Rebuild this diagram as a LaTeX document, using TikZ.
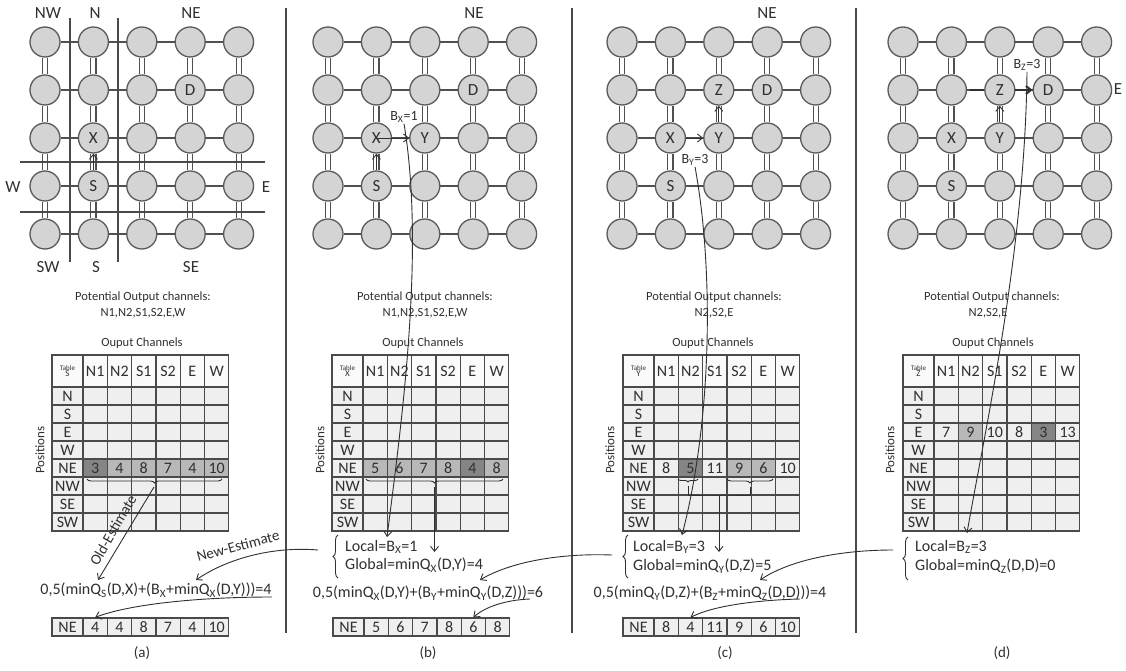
\documentclass[tikz,border=0pt]{standalone}
\usepackage{fontspec}
\setmainfont{Carlito}
\usetikzlibrary{arrows.meta,decorations.pathreplacing}
\definecolor{edgec}{HTML}{5A5A5A}
\definecolor{nodec}{HTML}{D4D4D4}
\definecolor{linec}{HTML}{505050}
\definecolor{divc}{HTML}{4A4A4A}
\definecolor{cellc}{HTML}{EFEFEF}
\definecolor{headc}{HTML}{FAFAFA}
\definecolor{midc}{HTML}{B8B8B8}
\definecolor{darkc}{HTML}{858585}
\definecolor{txtc}{HTML}{303030}
\newcommand\fsz[1]{\fontsize{#1}{#1}\selectfont}
\tikzset{
  router/.style={circle,draw=edgec,fill=nodec,line width=1.3pt,minimum size=30pt,inner sep=0pt},
  hlink/.style={draw=linec,line width=1.3pt},
  vlink/.style={draw=linec,line width=1.1pt,double=white,double distance=4pt},
  divider/.style={draw=divc,line width=2.2pt},
  cross/.style={draw=divc,line width=2pt},
  arr/.style={draw=txtc,line width=0.9pt,-{Straight Barb[length=5pt,width=8pt]}},
  cellbox/.style={draw=divc,line width=1.2pt,fill=cellc,minimum width=24.3pt,minimum height=18pt,inner sep=0pt,font=\fsz{16},text=txtc},
  rowlab/.style={cellbox,minimum width=31pt},
  headbox/.style={cellbox,fill=headc,minimum height=32pt},
  headlab/.style={headbox,minimum width=31pt,font=\fsz{7},align=center},
  lbl/.style={font=\fsz{16},text=txtc,inner sep=0pt},
  glbl/.style={font=\fsz{17},text=txtc,inner sep=0pt},
  small/.style={font=\fsz{12.5},text=txtc,inner sep=0pt},
  letr/.style={font=\fsz{17},text=txtc,inner sep=0pt},
  hbrace/.style={draw=txtc,line width=0.9pt,decorate,decoration={brace,mirror,amplitude=4pt}},
  vbrace/.style={draw=txtc,line width=0.9pt,decorate,decoration={brace,amplitude=5pt}},
  bl/.style={font=\fsz{14},text=txtc,fill=white,inner sep=1pt},
}
\newcommand\meshat[2]{%
  \foreach \i in {1,...,5}{\foreach \j in {1,...,5}{
    \node[router] (#1-\i-\j) at ({#2+48.4*(\i-1)},{42+48*(\j-1)}) {};}}
  \foreach \i in {1,...,4}{\foreach \j in {1,...,5}{
    \pgfmathtruncatemacro\ni{\i+1}
    \draw[hlink] (#1-\i-\j) -- (#1-\ni-\j);}}
  \foreach \i in {1,...,5}{\foreach \j in {1,...,4}{
    \pgfmathtruncatemacro\nj{\j+1}
    \draw[vlink] (#1-\i-\j) -- (#1-\i-\nj);}}
}
\newcommand\qtab[3]{%
  \node[headlab] (#1-0-0) at ({#2+15.5},371) {Table\\[-1pt]{\fsz{9}#3}};
  \foreach \c/\t in {1/N1,2/N2,3/S1,4/S2,5/E,6/W}
    \node[headbox] (#1-0-\c) at ({#2+31+24.3*(\c-0.5)},371) {\t};
  \foreach \r/\t in {1/N,2/S,3/E,4/W,5/NE,6/NW,7/SE,8/SW}{
    \node[rowlab] (#1-\r-0) at ({#2+15.5},{387+18*(\r-0.5)}) {\t};
    \foreach \c in {1,...,6}
      \node[cellbox] (#1-\r-\c) at ({#2+31+24.3*(\c-0.5)},{387+18*(\r-0.5)}) {};}
}
\newcommand\vals[3]{%
  \foreach \c/\v/\f in {#3}
    \node[cellbox,fill=\f] (#1-v-\c) at (#1-#2-\c) {\v};
}
\newcommand\newrow[3]{%
  \node[rowlab] (#1-0) at ({#2+15.5},627) {NE};
  \foreach \c/\v in {#3}
    \node[cellbox] (#1-\c) at ({#2+31+24.3*(\c-0.5)},627) {\v};
}
\begin{document}
\begin{tikzpicture}[x=1pt,y=-1pt]
\useasboundingbox[fill=white] (0,0) rectangle (1126,671);
% dividers
\draw[divider] (286,8) -- (286,633);
\draw[divider] (572,8) -- (572,633);
\draw[divider] (856,8) -- (856,633);
% meshes
\meshat{a}{45}
\meshat{b}{328}
\meshat{c}{622}
\meshat{d}{903}
% panel (a) region lines
\draw[cross] (70,18) -- (70,262);
\draw[cross] (118,18) -- (118,262);
\draw[cross] (20,162) -- (265,162);
\draw[cross] (20,212) -- (265,212);
\node[glbl] (lNW) at (48,13) {NW};
\node[glbl] (lN) at (95,13) {N};
\node[glbl] (lNE) at (191,13) {NE};
\node[glbl] (lW) at (13,187) {W};
\node[glbl] (lE) at (266,187) {E};
\node[glbl] (lSW) at (48,267) {SW};
\node[glbl] (lS) at (96,267) {S};
\node[glbl] (lSE) at (191,267) {SE};
\node[glbl] (lNEb) at (474,13) {NE};
\node[glbl] (lNEc) at (767,13) {NE};
\node[glbl] (lEd) at (1118,89) {E};
% letters
\node[letr] (aD) at (a-4-2) {D};
\node[letr] (aX) at (a-2-3) {X};
\node[letr] (aS) at (a-2-4) {S};
\node[letr] (bD) at (b-4-2) {D};
\node[letr] (bX) at (b-2-3) {X};
\node[letr] (bY) at (b-3-3) {Y};
\node[letr] (bS) at (b-2-4) {S};
\node[letr] (cZ) at (c-3-2) {Z};
\node[letr] (cD) at (c-4-2) {D};
\node[letr] (cX) at (c-2-3) {X};
\node[letr] (cY) at (c-3-3) {Y};
\node[letr] (cS) at (c-2-4) {S};
\node[letr] (dZ) at (d-3-2) {Z};
\node[letr] (dD) at (d-4-2) {D};
\node[letr] (dX) at (d-2-3) {X};
\node[letr] (dY) at (d-3-3) {Y};
\node[letr] (dS) at (d-2-4) {S};
% route arrows
\draw[arr] (a-2-4) -- (a-2-3);
\draw[arr] (b-2-4) -- (b-2-3);
\draw[arr] (b-2-3.center) -- (b-3-3);
\draw[arr] (c-2-3) -- (c-3-3);
\draw[arr] (c-3-3) -- (c-3-2);
\draw[arr] (d-3-3) -- (d-3-2);
\coordinate (dzl) at (970,90);
\draw[draw=txtc,line width=2pt] (dzl) -- (d-3-2.west);
\draw[draw=txtc,line width=2pt,-{Straight Barb[length=5pt,width=8pt]}] (d-3-2.east) -- (d-4-2);
\node[bl] (bBx) at (404,117) {B\textsubscript{X}=1};
\node[bl] (cBy) at (695,160) {B\textsubscript{Y}=3};
\node[bl] (dBz) at (1027,65) {B\textsubscript{Z}=3};
% texts above tables
\node[small] (apo) at (143,297) {Potential Output channels:};
\node[small] (apl) at (143,313) {N1,N2,S1,S2,E,W};
\node[small] (aoc) at (142,343) {Ouput Channels};
\node[small] (bpo) at (425,297) {Potential Output channels:};
\node[small] (bpl) at (425,313) {N1,N2,S1,S2,E,W};
\node[small] (boc) at (423,343) {Ouput Channels};
\node[small] (cpo) at (714,297) {Potential Output channels:};
\node[small] (cpl) at (714,313) {N2,S2,E};
\node[small] (coc) at (713,343) {Ouput Channels};
\node[small] (dpo) at (992,297) {Potential Output channels:};
\node[small] (dpl) at (988,313) {N2,S2,E};
\node[small] (doc) at (993,343) {Ouput Channels};
% tables
\qtab{ta}{52}{S}
\qtab{tb}{332}{X}
\qtab{tc}{623}{Y}
\qtab{td}{903}{Z}
\vals{ta}{5}{1/3/darkc,2/4/midc,3/8/midc,4/7/midc,5/4/midc,6/10/midc}
\vals{tb}{5}{1/5/midc,2/6/midc,3/7/midc,4/8/midc,5/4/darkc,6/8/midc}
\vals{tc}{5}{1/8/cellc,2/5/darkc,3/11/cellc,4/9/midc,5/6/midc,6/10/cellc}
\vals{td}{3}{1/7/cellc,2/9/midc,3/10/cellc,4/8/cellc,5/3/darkc,6/13/cellc}
\node[small,font=\fsz{13},rotate=90] (aPos) at (40,450) {Positions};
\node[small,font=\fsz{13},rotate=90] (bPos) at (320,450) {Positions};
\node[small,font=\fsz{13},rotate=90] (cPos) at (610,450) {Positions};
\node[small,font=\fsz{13},rotate=90] (dPos) at (890,450) {Positions};
% braces under NE rows
\draw[hbrace] (87,479) -- (222,479);
\coordinate (aTip) at (154,487);
\draw[hbrace] (366,479) -- (503,479);
\coordinate (bTip) at (434.5,487);
\draw[hbrace,decoration={brace,mirror,amplitude=3pt}] (678,479) -- (698,479);
\draw[hbrace] (727,479) -- (773,479);
\coordinate (cT1) at (688,486);
\coordinate (cT2) at (750,487);
\coordinate (cJ) at (719,495);
\draw[draw=txtc,line width=0.9pt] (cT1) |- (cJ) -| (cT2);
% local/global blocks
\draw[vbrace] (338,578) -- (338,535);
\node[lbl,anchor=west] (bLoc) at (345,547) {Local=B\textsubscript{X}=1};
\node[lbl,anchor=west] (bGlo) at (345,565) {Global=minQ\textsubscript{X}(D,Y)=4};
\draw[vbrace] (628,578) -- (628,535);
\node[lbl,anchor=west] (cLoc) at (633,547) {Local=B\textsubscript{Y}=3};
\node[lbl,anchor=west] (cGlo) at (633,566) {Global=minQ\textsubscript{Y}(D,Z)=5};
\draw[vbrace] (908,580) -- (908,537);
\node[lbl,anchor=west] (dLoc) at (915,547) {Local=B\textsubscript{Z}=3};
\node[lbl,anchor=west] (dGlo) at (915,566) {Global=minQ\textsubscript{Z}(D,D)=0};
% formulas
\node[lbl] (aFor) at (156,590) {0,5(minQ\textsubscript{S}(D,X)+(B\textsubscript{X}+minQ\textsubscript{X}(D,Y)))=4};
\node[lbl] (bFor) at (428,593) {0,5(minQ\textsubscript{X}(D,Y)+(B\textsubscript{Y}+minQ\textsubscript{Y}(D,Z)))=6};
\node[lbl] (cFor) at (710,593) {0,5(minQ\textsubscript{Y}(D,Z)+(B\textsubscript{Z}+minQ\textsubscript{Z}(D,D)))=4};
% new rows
\newrow{ra}{52}{1/4,2/4,3/8,4/7,5/4,6/10}
\newrow{rb}{333}{1/5,2/6,3/7,4/8,5/6,6/8}
\newrow{rc}{623}{1/8,2/4,3/11,4/9,5/6,6/10}
\node[lbl,font=\fsz{15}] (capa) at (142,653) {(a)};
\node[lbl,font=\fsz{15}] (capb) at (428,653) {(b)};
\node[lbl,font=\fsz{15}] (capc) at (725,653) {(c)};
\node[lbl,font=\fsz{15}] (capd) at (1002,653) {(d)};
% long curves from B labels to Local
\coordinate (bLe) at (387,537);
\coordinate (cLe) at (682,535);
\coordinate (dLe) at (967,533);
\draw[arr] (bBx.south) .. controls (425,250) and (402,420) .. (bLe);
\draw[arr] (cBy.south) .. controls (714,270) and (712,420) .. (cLe);
\draw[arr] (dBz.south) .. controls (1025,250) and (985,430) .. (dLe);
% brace arrows to global
\coordinate (bGe) at (434.5,552);
\coordinate (cGe) at (719,552);
\draw[arr] (bTip) -- (bGe);
\draw[arr] (cJ) -- (cGe);
% old estimate
\coordinate (aOe) at (98,580);
\draw[arr] (aTip) -- (aOe);
\node[lbl,font=\fsz{15},rotate=60] (aOld) at (113,530) {Old-Estimate};
% new estimate arrows
\coordinate (bNs) at (318,550);
\coordinate (aNe) at (196,580);
\coordinate (cNs) at (612,555);
\coordinate (bNe) at (480,580);
\coordinate (dNs) at (893,550);
\coordinate (cNe) at (760,580);
\draw[arr] (bNs) .. controls (270,546) and (225,560) .. (aNe);
\node[lbl,font=\fsz{15},rotate=15] (aNew) at (238,546) {New-Estimate};
\draw[arr] (cNs) .. controls (560,553) and (510,562) .. (bNe);
\draw[arr] (dNs) .. controls (840,550) and (790,560) .. (cNe);
% formula to row arrows
\coordinate (aFs) at (272,597);
\coordinate (bFs) at (530,599);
\coordinate (cFs) at (800,599);
\draw[arr] (aFs) .. controls (200,597) and (130,604) .. (ra-1.north);
\draw[arr] (bFs) .. controls (505,600) and (485,607) .. (rb-5.north);
\draw[arr] (cFs) .. controls (760,600) and (715,605) .. (rc-2.north);
\end{tikzpicture}
\end{document}
